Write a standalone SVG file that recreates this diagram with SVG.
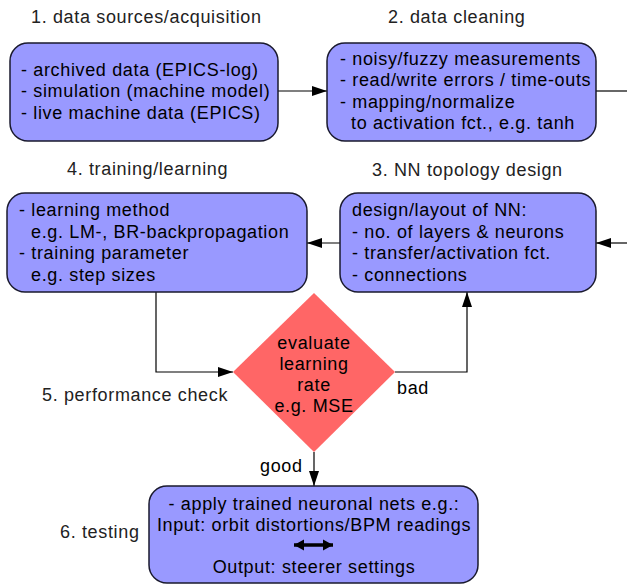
<svg xmlns="http://www.w3.org/2000/svg" width="627" height="585" viewBox="0 0 627 585">
<style>
.box{fill:#9999ff;stroke:#1a1a2e;stroke-width:1.5}
.dia{fill:#ff6666;stroke:none}
.t{font-family:"Liberation Sans",Arial,sans-serif;font-size:18px;letter-spacing:0.65px;fill:#000}
.h{font-family:"Liberation Sans",Arial,sans-serif;font-size:18px;letter-spacing:0.65px;fill:#222}
.c{text-anchor:middle}
.ln{fill:none;stroke:#000;stroke-width:1.2}
</style>
<defs>
<marker id="ah" markerUnits="userSpaceOnUse" markerWidth="16" markerHeight="10" refX="15" refY="5" orient="auto">
<path d="M0,0 L15,5 L0,10 Z" fill="#000"/>
</marker>
<marker id="dh" markerUnits="userSpaceOnUse" markerWidth="11" markerHeight="12" refX="10" refY="6" orient="auto-start-reverse">
<path d="M0,0.5 L10,6 L0,11.5 Z" fill="#000"/>
</marker>
</defs>
<g id="labels">
<text class="h" x="31" y="23">1. data sources/acquisition</text>
<text class="h" x="388" y="23">2. data cleaning</text>
<text class="h" x="67" y="175">4. training/learning</text>
<text class="h" x="372" y="176">3. NN topology design</text>
<text class="h" x="42" y="401">5. performance check</text>
<text class="h" x="60" y="538">6. testing</text>
</g>
<g id="connectors">
<path class="ln" d="M278,91 H327" marker-end="url(#ah)"/>
<path class="ln" d="M596,91 H627"/>
<path class="ln" d="M627,243 H596" marker-end="url(#ah)"/>
<path class="ln" d="M340,243 H307" marker-end="url(#ah)"/>
<path class="ln" d="M156,292 V372 H233" marker-end="url(#ah)"/>
<path class="ln" d="M395,372 H467 V292" marker-end="url(#ah)"/>
<path class="ln" d="M314,452 V486" marker-end="url(#ah)"/>
<text class="t" x="397" y="394">bad</text>
<text class="t" x="260" y="472">good</text>
</g>
<g id="n1">
<rect class="box" x="10" y="43" width="268" height="98" rx="18"/>
<text class="t" x="21" y="76">- archived data (EPICS-log)</text>
<text class="t" x="21" y="97">- simulation (machine model)</text>
<text class="t" x="21" y="119">- live machine data (EPICS)</text>
</g>
<g id="n2">
<rect class="box" x="327" y="43" width="269" height="98" rx="18"/>
<text class="t" x="340" y="65">- noisy/fuzzy measurements</text>
<text class="t" x="340" y="86">- read/write errors / time-outs</text>
<text class="t" x="340" y="108">- mapping/normalize</text>
<text class="t" x="351" y="129">to activation fct., e.g. tanh</text>
</g>
<g id="n3">
<rect class="box" x="340" y="193" width="256" height="99" rx="18"/>
<text class="t" x="352" y="216">design/layout of NN:</text>
<text class="t" x="352" y="238">- no. of layers &amp; neurons</text>
<text class="t" x="352" y="259">- transfer/activation fct.</text>
<text class="t" x="352" y="281">- connections</text>
</g>
<g id="n4">
<rect class="box" x="7" y="193" width="300" height="99" rx="18"/>
<text class="t" x="19" y="216">- learning method</text>
<text class="t" x="31" y="238">e.g. LM-, BR-backpropagation</text>
<text class="t" x="19" y="259">- training parameter</text>
<text class="t" x="31" y="281">e.g. step sizes</text>
</g>
<g id="n5">
<path class="dia" d="M314,293 L395,372 L314,452 L233,372 Z"/>
<text class="t c" x="314" y="349">evaluate</text>
<text class="t c" x="314" y="370">learning</text>
<text class="t c" x="314" y="391">rate</text>
<text class="t c" x="314" y="412">e.g. MSE</text>
</g>
<g id="n6">
<rect class="box" x="149" y="486" width="329" height="97" rx="18"/>
<text class="t c" x="314" y="510">- apply trained neuronal nets e.g.:</text>
<text class="t c" x="314" y="531">Input: orbit distortions/BPM readings</text>
<path d="M294,545 H333" stroke="#000" stroke-width="3.5" fill="none" marker-start="url(#dh)" marker-end="url(#dh)"/>
<text class="t c" x="314" y="573">Output: steerer settings</text>
</g>
</svg>
